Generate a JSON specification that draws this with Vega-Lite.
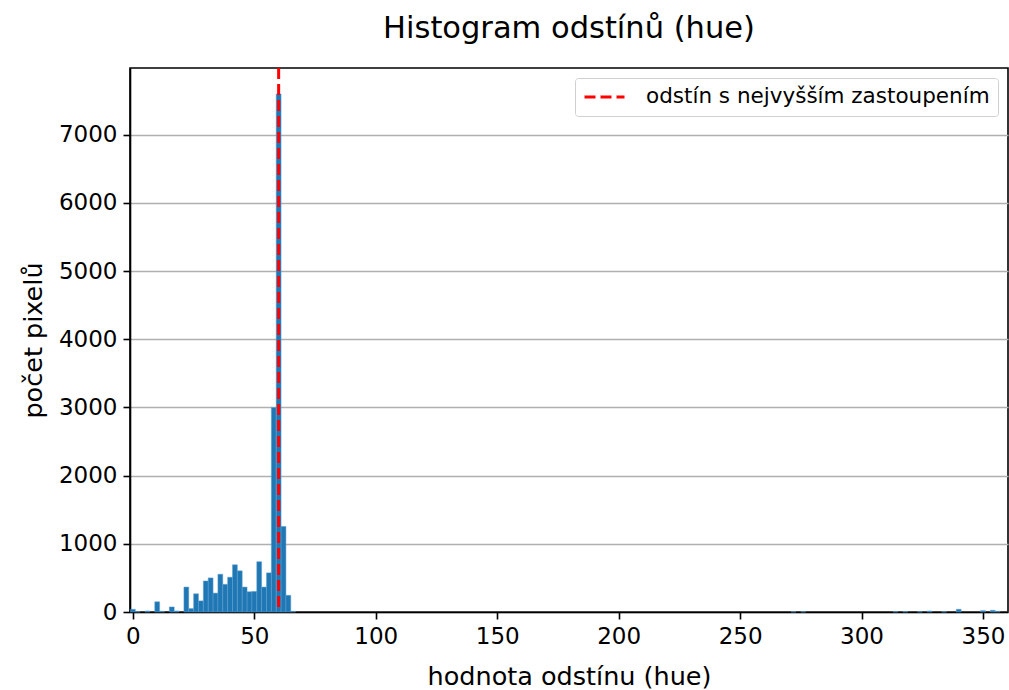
{
  "$schema": "https://vega.github.io/schema/vega-lite/v6.json",
  "autosize": {"type": "none"},
  "width": 878,
  "height": 544,
  "padding": {"left": 130, "top": 68, "right": 1, "bottom": 78},
  "background": "white",
  "title": {
    "text": "Histogram odstínů (hue)",
    "font": "DejaVu Sans",
    "fontSize": 30.5,
    "fontWeight": "normal",
    "color": "black",
    "anchor": "middle",
    "baseline": "alphabetic",
    "offset": -2
  },
  "config": {
    "view": {"stroke": "black", "strokeWidth": 1.6},
    "axis": {
      "labelFont": "DejaVu Sans",
      "labelFontSize": 23,
      "labelColor": "black",
      "titleFont": "DejaVu Sans",
      "titleFontSize": 25.5,
      "titleFontWeight": "normal",
      "titleColor": "black",
      "domainColor": "black",
      "domainWidth": 1.6,
      "tickColor": "black",
      "tickWidth": 1.6,
      "tickSize": 7,
      "labelPadding": 6,
      "gridColor": "#b0b0b0",
      "gridWidth": 1.6
    }
  },
  "datasets": {
    "bins": [
      {"hue": 0, "count": 40}, {"hue": 2, "count": 5}, {"hue": 6, "count": 15},
      {"hue": 10, "count": 150}, {"hue": 12, "count": 10}, {"hue": 16, "count": 75},
      {"hue": 18, "count": 15}, {"hue": 22, "count": 366}, {"hue": 24, "count": 50},
      {"hue": 26, "count": 267}, {"hue": 28, "count": 163}, {"hue": 30, "count": 455},
      {"hue": 32, "count": 500}, {"hue": 34, "count": 277}, {"hue": 36, "count": 554},
      {"hue": 38, "count": 406}, {"hue": 40, "count": 510}, {"hue": 42, "count": 693},
      {"hue": 44, "count": 604}, {"hue": 46, "count": 366}, {"hue": 48, "count": 297},
      {"hue": 50, "count": 302}, {"hue": 52, "count": 738}, {"hue": 54, "count": 366},
      {"hue": 56, "count": 574}, {"hue": 58, "count": 3000}, {"hue": 60, "count": 7600},
      {"hue": 62, "count": 1255}, {"hue": 64, "count": 245}, {"hue": 66, "count": 10},
      {"hue": 272, "count": 4}, {"hue": 276, "count": 4}, {"hue": 314, "count": 6},
      {"hue": 318, "count": 6}, {"hue": 324, "count": 4}, {"hue": 328, "count": 15},
      {"hue": 334, "count": 5}, {"hue": 340, "count": 40}, {"hue": 350, "count": 20},
      {"hue": 354, "count": 25}, {"hue": 356, "count": 10}
    ],
    "peak": [{"hue": 60}]
  },
  "layer": [
    {
      "data": {"name": "bins"},
      "transform": [
        {"calculate": "datum.hue - 1", "as": "lo"},
        {"calculate": "datum.hue + 1", "as": "hi"}
      ],
      "mark": {"type": "rect", "color": "#1f77b4", "stroke": "#5f9fd0", "strokeWidth": 0.5},
      "encoding": {
        "x": {
          "field": "lo", "type": "quantitative",
          "scale": {"domain": [-1.2, 360.3], "nice": false, "zero": false},
          "axis": {"values": [0, 50, 100, 150, 200, 250, 300, 350], "grid": false, "title": "hodnota odstínu (hue)", "titlePadding": 16}
        },
        "x2": {"field": "hi"},
        "y": {
          "field": "count", "type": "quantitative",
          "scale": {"domain": [0, 7980], "nice": false},
          "axis": {"values": [0, 1000, 2000, 3000, 4000, 5000, 6000, 7000], "grid": true, "title": "počet pixelů", "titlePadding": 12, "format": "d"}
        },
        "y2": {"datum": 0}
      }
    },
    {
      "data": {"name": "peak"},
      "mark": {"type": "rule", "strokeWidth": 3, "strokeDash": [11, 5]},
      "encoding": {
        "x": {"field": "hue", "type": "quantitative"},
        "color": {
          "datum": "odstín s nejvyšším zastoupením",
          "type": "nominal",
          "scale": {"range": ["#ff0000"]},
          "legend": {
            "title": null,
            "orient": "top-right",
            "offset": 10,
            "labelFont": "DejaVu Sans",
            "labelFontSize": 21.5,
            "labelColor": "black",
            "labelLimit": 600,
            "symbolType": "stroke",
            "symbolStrokeWidth": 3,
            "symbolDash": [11, 5],
            "symbolSize": 1600,
            "symbolStrokeColor": "#ff0000",
            "clipHeight": 22,
            "labelOffset": 20,
            "strokeColor": "#d0d0d0",
            "fillColor": "white",
            "padding": 8,
            "cornerRadius": 3
          }
        }
      }
    }
  ]
}
